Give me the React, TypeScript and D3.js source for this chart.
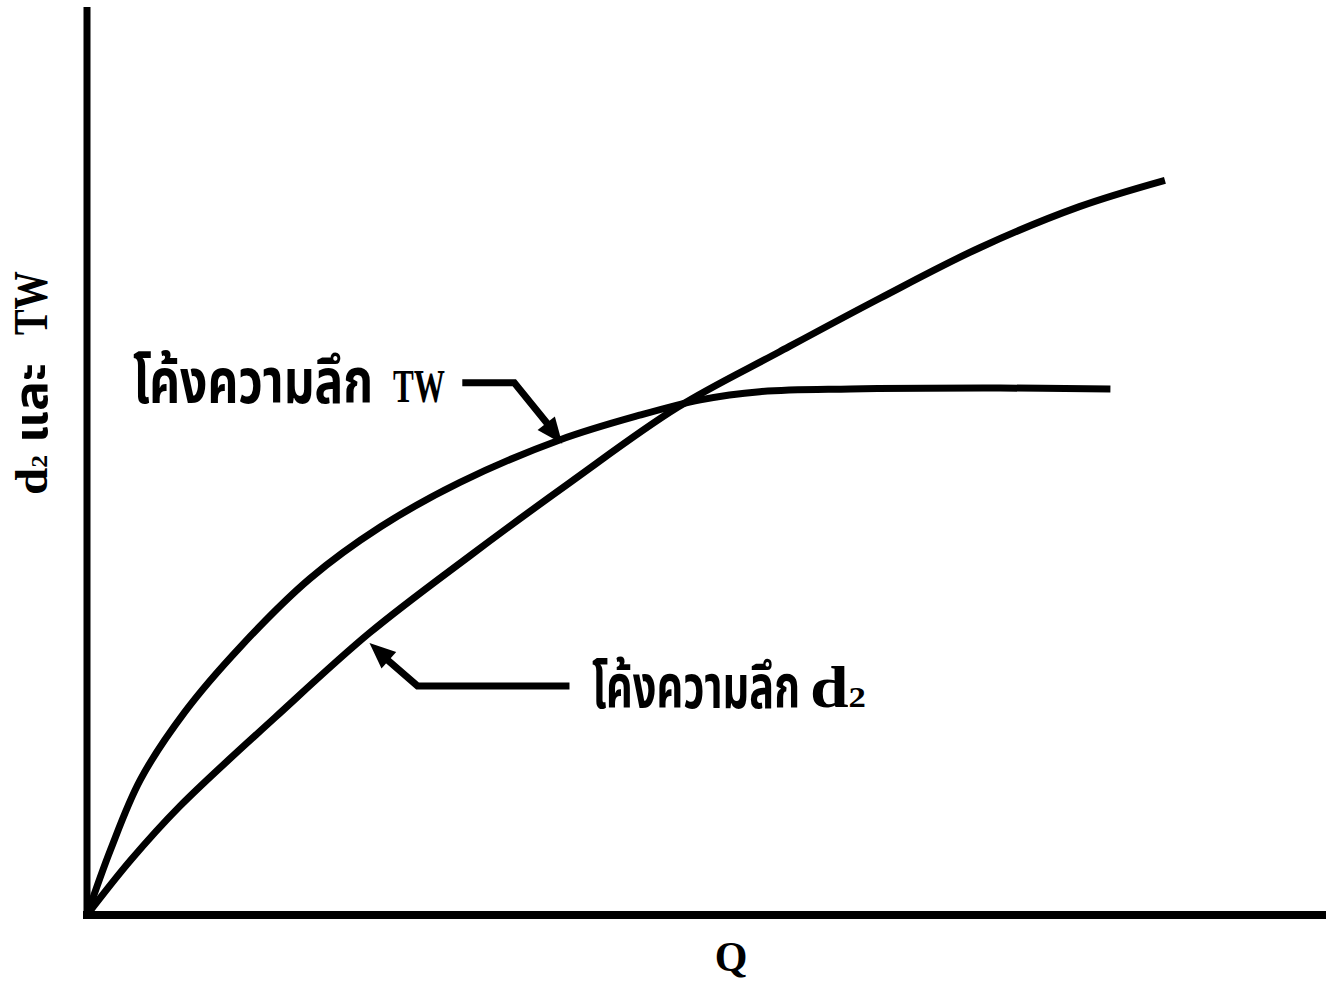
import React from 'react'
import * as d3 from 'd3'

// values, Q and depth in arbitrary units (0-100)
const twQ = [0, 1.9, 4.3, 7.9, 12.4, 18.0, 23.7, 30.1, 38.2, 44.6, 49.5, 54.3, 61.6, 73.7, 82.6]
const twDepth = [0, 7.2, 14.9, 22.4, 29.6, 37.1, 42.8, 47.7, 52.4, 55.1, 56.8, 57.7, 58.0, 58.1, 58.0]
const d2Q = [0, 3.5, 7.5, 15.2, 22.8, 30.9, 39.0, 47.7, 55.9, 64.0, 72.1, 80.1, 87.0]
const d2Depth = [0, 6.0, 12.0, 21.8, 31.1, 39.6, 47.7, 56.0, 62.1, 68.0, 73.6, 78.1, 81.0]

const curveLabel = 'โค้งความลึก'
const yLabelThai = 'และ'

const W = 1326
const H = 987
const margin = { top: 8, right: 0, bottom: 72, left: 87 }

export default function App() {
    const x = d3.scaleLinear().domain([0, 100]).range([margin.left, W - margin.right])
    const y = d3.scaleLinear().domain([0, 100]).range([H - margin.bottom, margin.top])

    const line = d3.line<[number, number]>()
        .x(d => x(d[0]))
        .y(d => y(d[1]))
        .curve(d3.curveCatmullRom.alpha(0.5))

    const tw = twQ.map((q, i) => [q, twDepth[i]] as [number, number])
    const d2 = d2Q.map((q, i) => [q, d2Depth[i]] as [number, number])

    // arrow tips sit on the curves
    const twTip = [x(twQ[8]), y(twDepth[8])]
    const d2Tip = [x(d2Q[4]), y(d2Depth[4])]

    const thaiFont = '"Noto Sans Thai", "Noto Serif Thai", Loma, Garuda, sans-serif'
    const serif = '"Liberation Serif", "DejaVu Serif", serif'

    function arrowHead(tip: number[], from: number[], size = 26, half = 11) {
        const dx = tip[0] - from[0], dy = tip[1] - from[1]
        const len = Math.hypot(dx, dy)
        const ux = dx / len, uy = dy / len
        const bx = tip[0] - ux * size, by = tip[1] - uy * size
        return `M${tip[0]},${tip[1]}L${bx - uy * half},${by + ux * half}L${bx + uy * half},${by - ux * half}Z`
    }

    const twBend = [twTip[0] - 46, twTip[1] - 57]
    const twStart = [twBend[0] - 52, twBend[1]]
    const d2Head = [d2Tip[0], d2Tip[1] + 10]
    const d2Bend = [d2Tip[0] + 48, d2Tip[1] + 53]
    const d2End = [d2Bend[0] + 152, d2Bend[1]]

    return (
        <svg width={W} height={H} style={{ position: 'absolute', left: 0, top: 0, background: 'white' }}>
            {/* axes */}
            <line x1={x(0)} x2={x(0)} y1={y(100) - 1} y2={y(0) + 4} stroke="black" strokeWidth={7} />
            <line x1={x(0) - 4} x2={x(100)} y1={y(0)} y2={y(0)} stroke="black" strokeWidth={8} />

            {/* curves */}
            <path d={line(tw) || ''} fill="none" stroke="black" strokeWidth={7} />
            <path d={line(d2) || ''} fill="none" stroke="black" strokeWidth={7} />

            {/* TW annotation */}
            <polyline
                points={[twStart, twBend, [twTip[0] - 12, twTip[1] - 15]].map(p => p.join(',')).join(' ')}
                fill="none" stroke="black" strokeWidth={7}
            />
            <path d={arrowHead([twTip[0] + 2, twTip[1] + 4], twBend)} fill="black" />
            <text x={133} y={403} fontFamily={thaiFont} fontWeight="bold" fontSize={62}
                textLength={240} lengthAdjust="spacingAndGlyphs">{curveLabel}</text>
            <text x={393} y={402} fontFamily={serif} fontWeight="bold" fontSize={46}
                textLength={52} lengthAdjust="spacingAndGlyphs">TW</text>

            {/* d2 annotation */}
            <polyline
                points={[d2End, d2Bend, [d2Head[0] + 11, d2Head[1] + 11]].map(p => p.join(',')).join(' ')}
                fill="none" stroke="black" strokeWidth={7}
            />
            <path d={arrowHead(d2Head, d2Bend)} fill="black" />
            <text x={592} y={708} fontFamily={thaiFont} fontWeight="bold" fontSize={60}
                textLength={208} lengthAdjust="spacingAndGlyphs">{curveLabel}</text>
            <text x={810} y={707} fontFamily={serif} fontWeight="bold" fontSize={60}
                textLength={56} lengthAdjust="spacingAndGlyphs">
                d<tspan fontSize={30}>2</tspan>
            </text>

            {/* axis titles */}
            <text x={731} y={971} textAnchor="middle" fontFamily={serif} fontWeight="bold" fontSize={42}>Q</text>
            <g transform="translate(47, 495) rotate(-90)">
                <text x={0} y={0} fontFamily={serif} fontWeight="bold" fontSize={46}
                    textLength={40} lengthAdjust="spacingAndGlyphs">
                    d<tspan fontSize={24}>2</tspan>
                </text>
                <text x={52} y={0} fontFamily={thaiFont} fontWeight="bold" fontSize={46}
                    textLength={80} lengthAdjust="spacingAndGlyphs">{yLabelThai}</text>
                <text x={160} y={0} fontFamily={serif} fontWeight="bold" fontSize={48}
                    textLength={64} lengthAdjust="spacingAndGlyphs">TW</text>
            </g>
        </svg>
    )
}
